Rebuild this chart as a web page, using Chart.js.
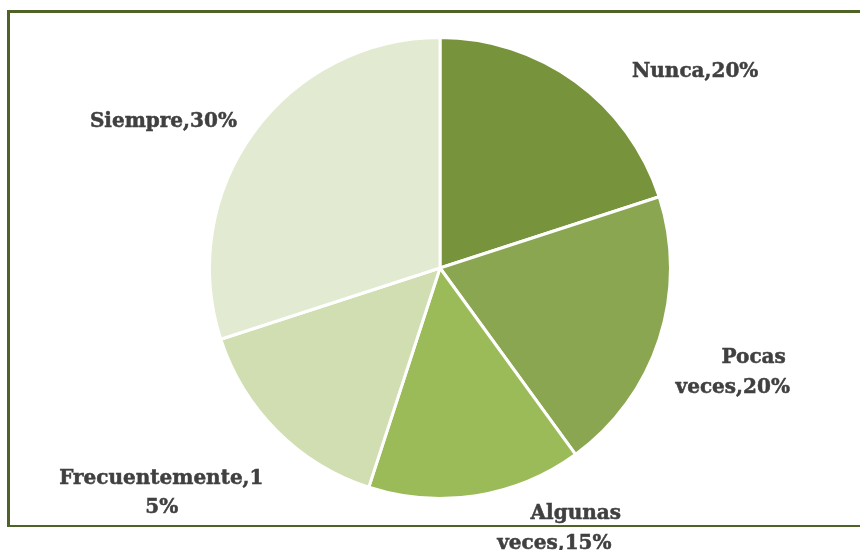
<!DOCTYPE html>
<html lang="es">
<head>
  <meta charset="UTF-8">
  <title>Frecuencia</title>
  <script src="https://cdn.jsdelivr.net/npm/chart.js"></script>
  <style>
    html, body { margin: 0; padding: 0; background: #fff; }
    #wrap { width: 860px; height: 550px; position: relative; }
  </style>
</head>
<body>
  <div id="wrap"><canvas id="pie" width="860" height="550"></canvas></div>

  <script>
    // datos
    const categorias = ['Nunca', 'Pocas veces', 'Algunas veces', 'Frecuentemente', 'Siempre'];
    const porcentajes = [20, 20, 15, 15, 30];
    const etiquetas = [['Nunca,20%'], ['Pocas', 'veces,20%'], ['Algunas', 'veces,15%'], ['Frecuentemente,1', '5%'], ['Siempre,30%']];
    const colores = ['#77933c', '#8ba650', '#9bbb59', '#d0deb1', '#e2ebd1'];

    // posición de cada línea de etiqueta relativa al centro, en radios: [dx, dy línea base]
    const posEtiquetas = [
      [[1.107, -0.830]],
      [[1.361, 0.413], [1.270, 0.542]],
      [[0.589, 1.091], [0.496, 1.217]],
      [[-1.209, 0.935], [-1.207, 1.065]],
      [[-1.200, -0.612]]
    ];

    const marco = {
      id: 'marco',
      beforeDraw(chart) {
        const ctx = chart.ctx;
        ctx.save();
        ctx.strokeStyle = '#4f6228';
        ctx.lineWidth = 3;
        ctx.beginPath();
        ctx.moveTo(870, 11.5);
        ctx.lineTo(8.5, 11.5);
        ctx.lineTo(8.5, 526);
        ctx.stroke();
        ctx.lineWidth = 2;
        ctx.beginPath();
        ctx.moveTo(7, 526);
        ctx.lineTo(870, 526);
        ctx.stroke();
        ctx.restore();
      }
    };

    const rotulos = {
      id: 'rotulos',
      afterDatasetsDraw(chart) {
        const ctx = chart.ctx;
        const arcs = chart.getDatasetMeta(0).data;
        ctx.save();
        ctx.fillStyle = '#404040';
        ctx.strokeStyle = '#404040';
        ctx.lineWidth = 0.5;
        ctx.font = 'bold 20px "DejaVu Serif"';
        ctx.textAlign = 'center';
        ctx.textBaseline = 'alphabetic';
        arcs.forEach((arc, i) => {
          const r = arc.outerRadius;
          etiquetas[i].forEach((linea, j) => {
            const x = arc.x + posEtiquetas[i][j][0] * r;
            const y = arc.y + posEtiquetas[i][j][1] * r;
            ctx.fillText(linea, x, y);
            ctx.strokeText(linea, x, y);
          });
        });
        ctx.restore();
      }
    };

    new Chart(document.getElementById('pie'), {
      type: 'pie',
      data: {
        labels: categorias,
        datasets: [{
          data: porcentajes,
          backgroundColor: colores,
          borderColor: '#ffffff',
          borderWidth: 3
        }]
      },
      options: {
        responsive: false,
        animation: false,
        layout: { padding: { left: 208, right: 188, top: 36, bottom: 50 } },
        plugins: {
          legend: { display: false },
          tooltip: { enabled: false }
        }
      },
      plugins: [marco, rotulos]
    });
  </script>
</body>
</html>
